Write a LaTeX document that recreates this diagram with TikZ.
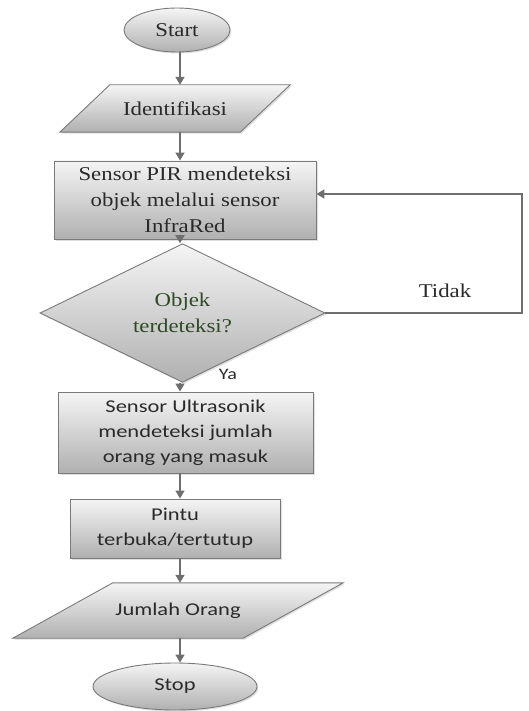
\documentclass[tikz,border=0pt]{standalone}
\usepackage{fontspec}
\usetikzlibrary{shapes.geometric,arrows.meta,shadows,calc}
\newfontfamily\serx[FakeStretch=1.17]{Liberation Serif}
\newfontfamily\sanx[FakeStretch=1.25]{Carlito}
\definecolor{linegray}{HTML}{6E6E6E}
\definecolor{edgegray}{HTML}{7A7A7A}
\definecolor{txtdark}{HTML}{2A2A2A}
\definecolor{objgreen}{HTML}{2F4A25}
\begin{document}
\begin{tikzpicture}[x=1pt,y=-1pt,
  shadebox/.style={draw=edgegray, line width=0.9pt, top color=gray!8, bottom color=gray!62,
     drop shadow={opacity=0.25, shadow xshift=1.5pt, shadow yshift=-1.5pt}},
  serf/.style={font=\serx\fontsize{19.5}{26}\selectfont, text=txtdark, align=center},
  sanf/.style={font=\sanx\fontsize{18}{25}\selectfont, text=txtdark, align=center},
  terminal/.style={shadebox, ellipse, inner sep=0pt},
  process/.style={shadebox, rectangle, inner sep=0pt},
  frame/.style={rectangle, draw=none, inner sep=0pt},
  decision/.style={shadebox, diamond, inner sep=0pt},
  arr/.style={draw=linegray, line width=1.4pt, -{Triangle[width=9pt,length=8pt]}},
  plainline/.style={draw=linegray, line width=1.4pt}]
\useasboundingbox (0,0) rectangle (528,711);
\coordinate (ax) at (180,0);

\node[terminal, serf, minimum width=106pt, minimum height=44pt] (start) at (177,30) {Start};

% Identifikasi parallelogram: mid-width 180, slant 50
\node[frame, minimum width=180pt, minimum height=47pt] (ident) at (175,108.5) {};
\path[shadebox] ([xshift=25pt]ident.north west) -- ([xshift=25pt]ident.north east)
  -- ([xshift=-25pt]ident.south east) -- ([xshift=-25pt]ident.south west) -- cycle;
\node[serf] (identtxt) at (ident) {Identifikasi};

\node[process, serf, minimum width=262pt, minimum height=78pt] (pir) at (185,200)
  {Sensor PIR mendeteksi\\objek melalui sensor\\InfraRed};
\node[decision, serf, text=objgreen, minimum width=285pt, minimum height=100pt] (dec) at (182.5,313)
  {Objek\\terdeteksi?};
\node[process, sanf, minimum width=255pt, minimum height=81pt] (ultra) at (185.5,432.5)
  {Sensor Ultrasonik\\mendeteksi jumlah\\orang yang masuk};
\node[process, sanf, minimum width=210pt, minimum height=59pt] (pintu) at (175,528.5)
  {Pintu\\terbuka/tertutup};

% Jumlah Orang parallelogram: mid-width 230, slant 100
\node[frame, minimum width=230pt, minimum height=55pt] (jumlah) at (178,610.5) {};
\path[shadebox] ([xshift=50pt]jumlah.north west) -- ([xshift=50pt]jumlah.north east)
  -- ([xshift=-50pt]jumlah.south east) -- ([xshift=-50pt]jumlah.south west) -- cycle;
\node[sanf] (jumlahtxt) at (jumlah) {Jumlah Orang};

\node[terminal, sanf, minimum width=164pt, minimum height=47pt] (stop) at (175,686.5) {Stop};

\node[serf] (tidak) at (445,291) {Tidak};
\node[sanf, font=\sanx\fontsize{16}{20}\selectfont] (ya) at (228,374) {Ya};

\coordinate (fb) at (522,194);

\draw[arr] (ax |- start.south) -- (ax |- ident.north);
\draw[arr] (ax |- ident.south) -- (ax |- pir.north);
\draw[arr] (ax |- pir.south) -- (ax |- dec.north);
\draw[arr] (ax |- dec.south) -- (ax |- ultra.north);
\draw[arr] (ax |- ultra.south) -- (ax |- pintu.north);
\draw[arr] (ax |- pintu.south) -- (ax |- jumlah.north);
\draw[arr] (ax |- jumlah.south) -- (ax |- stop.north);
\draw[arr] (dec.east) -| (fb) -- (fb -| pir.east);
\end{tikzpicture}
\end{document}
